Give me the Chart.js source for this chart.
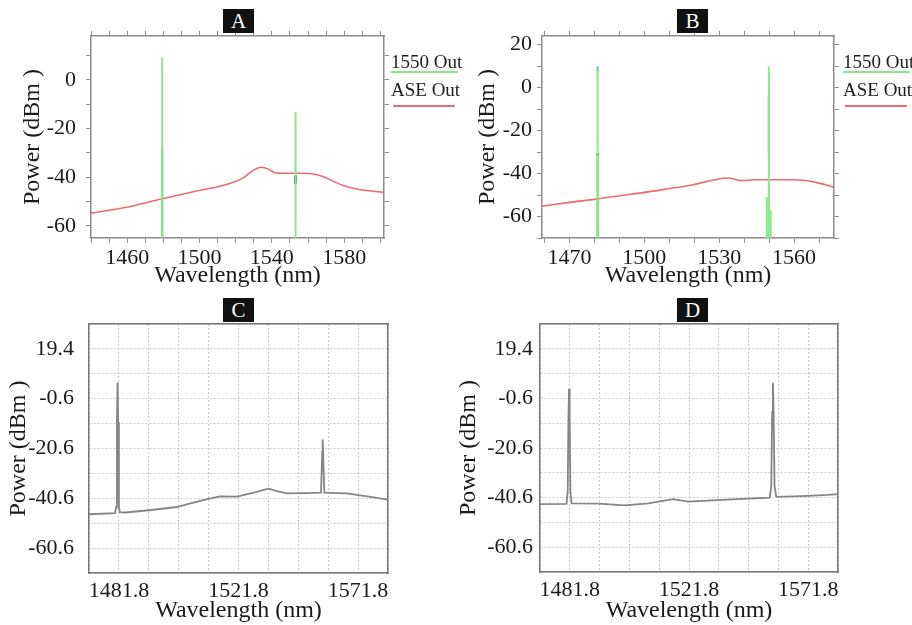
<!DOCTYPE html>
<html>
<head>
<meta charset="utf-8">
<title>ASE and 1550 output spectra</title>
<script src="https://cdn.jsdelivr.net/npm/chart.js@4.4.1/dist/chart.umd.min.js"></script>
<style>
    body { margin: 0; background: #fff; }
    #page { position: relative; width: 912px; height: 625px; overflow: hidden; font-family: "Liberation Serif", serif; }
    canvas { position: absolute; }
    .tag { position: absolute; width: 31px; height: 24px; background: #111; color: #fff; font-size: 21px; line-height: 25px; text-align: center; }
    .key { position: absolute; font-size: 19px; line-height: 19px; color: #1e1e1e; white-space: nowrap; }
    .swatch { position: absolute; height: 2px; }
</style>
</head>
<body>
<div id="page">
    <canvas id="chartA" width="456" height="290" style="left:0;top:0"></canvas>
    <canvas id="chartB" width="456" height="290" style="left:456px;top:0"></canvas>
    <canvas id="chartC" width="456" height="335" style="left:0;top:290px"></canvas>
    <canvas id="chartD" width="462" height="335" style="left:450px;top:290px"></canvas>

    <div class="tag" style="left:223px;top:9px">A</div>
    <div class="tag" style="left:677px;top:9px">B</div>
    <div class="tag" style="left:223px;top:298px">C</div>
    <div class="tag" style="left:677px;top:298px">D</div>

    <div class="key" style="left:391px;top:52px">1550 Out</div>
    <div class="swatch" style="left:391px;top:71px;width:67px;background:#86e886"></div>
    <div class="key" style="left:391px;top:80px">ASE Out</div>
    <div class="swatch" style="left:393px;top:105px;width:62px;background:#ee6a72"></div>

    <div class="key" style="left:843px;top:52px">1550 Out</div>
    <div class="swatch" style="left:843px;top:71px;width:67px;background:#86e886"></div>
    <div class="key" style="left:843px;top:80px">ASE Out</div>
    <div class="swatch" style="left:845px;top:105px;width:62px;background:#ee6a72"></div>
</div>

<script>
// ---- A : simulated spectra ----
const aseA_nm  = [1440, 1458, 1479.4, 1500.3, 1511.3, 1518.6, 1524.2, 1529.7, 1534.3, 1537.9, 1541.6, 1546.2, 1555.4, 1564.6, 1570.1, 1579.3, 1588.5, 1601.8];
const aseA_dbm = [-54.8, -52.6, -48.9, -45.4, -43.7, -42.1, -40.3, -37.2, -35.9, -36.6, -38.2, -38.4, -38.4, -38.9, -40.3, -43.4, -45.1, -46.2];
const laserA_nm  = [1479.4, 1553.1];
const laserA_dbm = [9.2, -13.3];
const strongA_nm  = [1479.4];
const strongA_dbm = [-28.4];
const darkA_nm  = [1553.1];
const darkA_top = [-39.3];
const darkA_bot = [-42.6];
const xTicksA  = [1440, 1450, 1460, 1470, 1480, 1490, 1500, 1510, 1520, 1530, 1540, 1550, 1560, 1570, 1580, 1590, 1600];
const xLabelsA = [1460, 1500, 1540, 1580];
const yTicksA  = [-60, -50, -40, -30, -20, -10, 0, 10];
const yLabelsA = [-60, -40, -20, 0];

// ---- B : simulated spectra ----
const aseB_nm  = [1459.1, 1470.9, 1481.5, 1490.9, 1498.9, 1509.5, 1519.5, 1528.2, 1533.5, 1538.9, 1544.2, 1560.2, 1568.2, 1575.8];
const aseB_dbm = [-55.2, -53.3, -51.8, -50.2, -49.0, -47.1, -45.2, -42.9, -42.1, -43.3, -42.9, -42.9, -44.0, -46.3];
const laserB_nm  = [1481.3, 1549.9, 1549.1, 1550.6];
const laserB_dbm = [9.1, 9.8, -51, -57];
const strongB_nm  = [1481.3];
const strongB_dbm = [-31];
const darkB_nm  = [1549.9];
const darkB_top = [-3.4];
const darkB_bot = [-30.7];
const blueB_nm  = [1481.3];
const blueB_top = [9.8];
const blueB_bot = [7.5];
const xTicksB  = [1460, 1470, 1480, 1490, 1500, 1510, 1520, 1530, 1540, 1550, 1560, 1570];
const xLabelsB = [1470, 1500, 1530, 1560];
const yTicksB  = [-70, -60, -50, -40, -30, -20, -10, 0, 10, 20];
const yLabelsB = [-60, -40, -20, 0, 20];

// ---- C and D : measured spectra ----
const traceC_nm  = [1471.8, 1480.5, 1480.9, 1481.15, 1481.35, 1481.55, 1481.8, 1482.1, 1484, 1491.8, 1501.2, 1504.5, 1511, 1515.5, 1521.3, 1526.9, 1531.8, 1534.6, 1538, 1544, 1549.4, 1549.8, 1549.95, 1550.1, 1550.5, 1558, 1562.5, 1566.5, 1571.8];
const traceC_dbm = [-47.0, -46.6, -44, -10, 5.9, -10, -44, -46.2, -46.3, -45.4, -44.1, -43.0, -41.0, -39.8, -39.9, -38.3, -36.7, -37.7, -38.6, -38.5, -38.3, -22, -17.0, -22, -38.3, -38.6, -39.4, -40.1, -41.1];
const traceD_nm  = [1471.8, 1480.7, 1481.1, 1481.35, 1481.55, 1481.75, 1482.0, 1482.4, 1491.4, 1500.3, 1508.1, 1516.5, 1521.5, 1532.7, 1548.9, 1549.4, 1549.7, 1549.95, 1550.2, 1550.5, 1551.1, 1561.7, 1568.4, 1571.8];
const traceD_dbm = [-43.2, -43.1, -38, -8, 3.3, -8, -38, -42.9, -43.0, -43.7, -42.9, -41.2, -42.2, -41.5, -40.6, -36, -6, 5.7, -6, -36, -40.3, -39.9, -39.5, -39.2];
const xGridCD   = [1471.8, 1481.8, 1491.8, 1501.8, 1511.8, 1521.8, 1531.8, 1541.8, 1551.8, 1561.8, 1571.8];
const xLabelsCD = ['', '1481.8', '', '', '', '1521.8', '', '', '', '1571.8', ''];
const yGridCD   = [-70.6, -60.6, -50.6, -40.6, -30.6, -20.6, -10.6, -0.6, 9.4, 19.4, 29.4];
const yLabelsCD = [19.4, -0.6, -20.6, -40.6, -60.6];

const FLOOR = -90;
const serif = 'Liberation Serif';
const ink = '#1a1a1a';
const frameGray = '#8c8c8c';
const lightGreen = '#86e886';
const strongGreen = '#33d633';
const aseRed = '#ee6a72';
const traceGray = '#858585';

function pts(xs, ys) {
    return xs.map((x, i) => ({x: x, y: ys[i]}));
}

function stick(x, top, bottom) {
    return [{x: x, y: bottom}, {x: x, y: top}];
}

function line(data, color, width) {
    return {data: data, borderColor: color, borderWidth: width, pointRadius: 0, tension: 0, fill: false};
}

function smooth(data, color, width) {
    const ds = line(data, color, width);
    ds.cubicInterpolationMode = 'monotone';
    return ds;
}

function fixedTicks(values) {
    return scale => { scale.ticks = values.map(v => ({value: v})); };
}

function baseOptions() {
    return {
        responsive: false,
        animation: false,
        devicePixelRatio: 1,
        layout: {padding: 0},
        events: [],
        plugins: {legend: {display: false}, tooltip: {enabled: false}},
    };
}

// simulation panels (A, B): frame with outward tick marks on all four sides
function simOptions(o) {
    const tickGrid = {drawOnChartArea: false, drawTicks: true, tickLength: 5, color: frameGray, lineWidth: 1};
    const edge = {display: true, color: frameGray, width: 1.5};
    const font = {family: serif, size: 22};
    const titleFont = {family: serif, size: 24};
    const opts = baseOptions();
    opts.scales = {
        x: {
            type: 'linear', position: 'bottom', min: o.xMin, max: o.xMax,
            afterBuildTicks: fixedTicks(o.xTicks),
            afterFit: s => { s.height = o.bottom; },
            grid: tickGrid, border: edge,
            ticks: {font: font, color: ink, padding: 2, maxRotation: 0, autoSkip: false,
                callback: v => o.xLabels.includes(v) ? String(v) : ''},
            title: {display: true, text: 'Wavelength (nm)', font: titleFont, color: ink, padding: 0}
        },
        xt: {
            type: 'linear', position: 'top', min: o.xMin, max: o.xMax,
            afterBuildTicks: fixedTicks(o.xTicks),
            afterFit: s => { s.height = o.top; },
            grid: tickGrid, border: edge,
            ticks: {display: false}
        },
        y: {
            type: 'linear', position: 'left', min: o.yMin, max: o.yMax,
            afterBuildTicks: fixedTicks(o.yTicks),
            afterFit: s => { s.width = o.left; },
            grid: tickGrid, border: edge,
            ticks: {font: font, color: ink, padding: o.yPad, autoSkip: false,
                callback: v => o.yLabels.includes(v) ? String(v) : ''},
            title: {display: true, text: 'Power (dBm )', font: titleFont, color: ink, padding: {top: o.titlePad}}
        },
        yr: {
            type: 'linear', position: 'right', min: o.yMin, max: o.yMax,
            afterBuildTicks: fixedTicks(o.yTicks),
            afterFit: s => { s.width = o.right; },
            grid: tickGrid, border: edge,
            ticks: {display: false}
        }
    };
    return opts;
}

// measured panels (C, D): dotted grid inside a plain frame
function osaOptions(o) {
    const font = {family: serif, size: 22};
    const titleFont = {family: serif, size: 24};
    const dotted = {color: '#c8c8c8', lineWidth: 1, drawTicks: false};
    const edge = {display: true, color: '#777', width: 1.5, dash: [2, 2]};
    const plain = {display: true, color: '#777', width: 1.5};
    const opts = baseOptions();
    opts.scales = {
        x: {
            type: 'linear', position: 'bottom', min: xGridCD[0], max: xGridCD[xGridCD.length - 1],
            afterBuildTicks: fixedTicks(xGridCD),
            afterFit: s => { s.height = o.bottom; },
            grid: dotted, border: edge,
            ticks: {font: font, color: ink, padding: 5, maxRotation: 0, autoSkip: false,
                callback: (v, i) => xLabelsCD[i]},
            title: {display: true, text: 'Wavelength (nm)', font: titleFont, color: ink, padding: 0}
        },
        xt: {
            type: 'linear', position: 'top', min: xGridCD[0], max: xGridCD[xGridCD.length - 1],
            afterFit: s => { s.height = o.top; },
            grid: {display: false}, border: plain,
            ticks: {display: false}
        },
        y: {
            type: 'linear', position: 'left', min: yGridCD[0], max: yGridCD[yGridCD.length - 1],
            afterBuildTicks: fixedTicks(yGridCD),
            afterFit: s => { s.width = o.left; },
            grid: dotted, border: edge,
            ticks: {font: font, color: ink, padding: o.yPad, autoSkip: false,
                callback: v => yLabelsCD.includes(v) ? v.toFixed(1) : ''},
            title: {display: true, text: 'Power (dBm )', font: titleFont, color: ink, padding: {top: o.titlePad}}
        },
        yr: {
            type: 'linear', position: 'right', min: yGridCD[0], max: yGridCD[yGridCD.length - 1],
            afterFit: s => { s.width = o.right; },
            grid: {display: false}, border: plain,
            ticks: {display: false}
        }
    };
    return opts;
}

// ---------- A ----------
const setsA = [];
laserA_nm.forEach((x, i) => setsA.push(line(stick(x, laserA_dbm[i], FLOOR), lightGreen, 2)));
strongA_nm.forEach((x, i) => setsA.push(line(stick(x, strongA_dbm[i], FLOOR), strongGreen, 2)));
darkA_nm.forEach((x, i) => setsA.push(line(stick(x, darkA_top[i], darkA_bot[i]), '#2f8a5e', 3)));
setsA.push(smooth(pts(aseA_nm, aseA_dbm), aseRed, 1.6));

new Chart(document.getElementById('chartA'), {
    type: 'line',
    data: {datasets: setsA},
    options: simOptions({xMin: 1440, xMax: 1602, yMin: -65, yMax: 18, xTicks: xTicksA, xLabels: xLabelsA,
        yTicks: yTicksA, yLabels: yLabelsA, left: 91, right: 72, top: 36, bottom: 52, yPad: 10, titlePad: 18})
});

// ---------- B ----------
const setsB = [];
laserB_nm.forEach((x, i) => setsB.push(line(stick(x, laserB_dbm[i], FLOOR), lightGreen, 2)));
strongB_nm.forEach((x, i) => setsB.push(line(stick(x, strongB_dbm[i], FLOOR), strongGreen, 2)));
darkB_nm.forEach((x, i) => setsB.push(line(stick(x, darkB_top[i], darkB_bot[i]), '#3cb43c', 2)));
blueB_nm.forEach((x, i) => setsB.push(line(stick(x, blueB_top[i], blueB_bot[i]), '#6f8fe0', 2)));
setsB.push({data: pts(strongB_nm, strongB_dbm), showLine: false, pointRadius: 1.5, borderWidth: 0, backgroundColor: '#2e5e9e'});
setsB.push(smooth(pts(aseB_nm, aseB_dbm), aseRed, 1.6));

new Chart(document.getElementById('chartB'), {
    type: 'line',
    data: {datasets: setsB},
    options: simOptions({xMin: 1459, xMax: 1576, yMin: -70, yMax: 24, xTicks: xTicksB, xLabels: xLabelsB,
        yTicks: yTicksB, yLabels: yLabelsB, left: 86, right: 78, top: 36, bottom: 52, yPad: 5, titlePad: 17})
});

// ---------- C ----------
new Chart(document.getElementById('chartC'), {
    type: 'line',
    data: {datasets: [line(pts(traceC_nm, traceC_dbm), traceGray, 1.8)]},
    options: osaOptions({left: 89, right: 68, top: 34, bottom: 52, yPad: 15, titlePad: 4})
});

// ---------- D ----------
new Chart(document.getElementById('chartD'), {
    type: 'line',
    data: {datasets: [line(pts(traceD_nm, traceD_dbm), traceGray, 1.8)]},
    options: osaOptions({left: 90, right: 74, top: 34, bottom: 53, yPad: 7, titlePad: 4})
});
</script>
</body>
</html>
